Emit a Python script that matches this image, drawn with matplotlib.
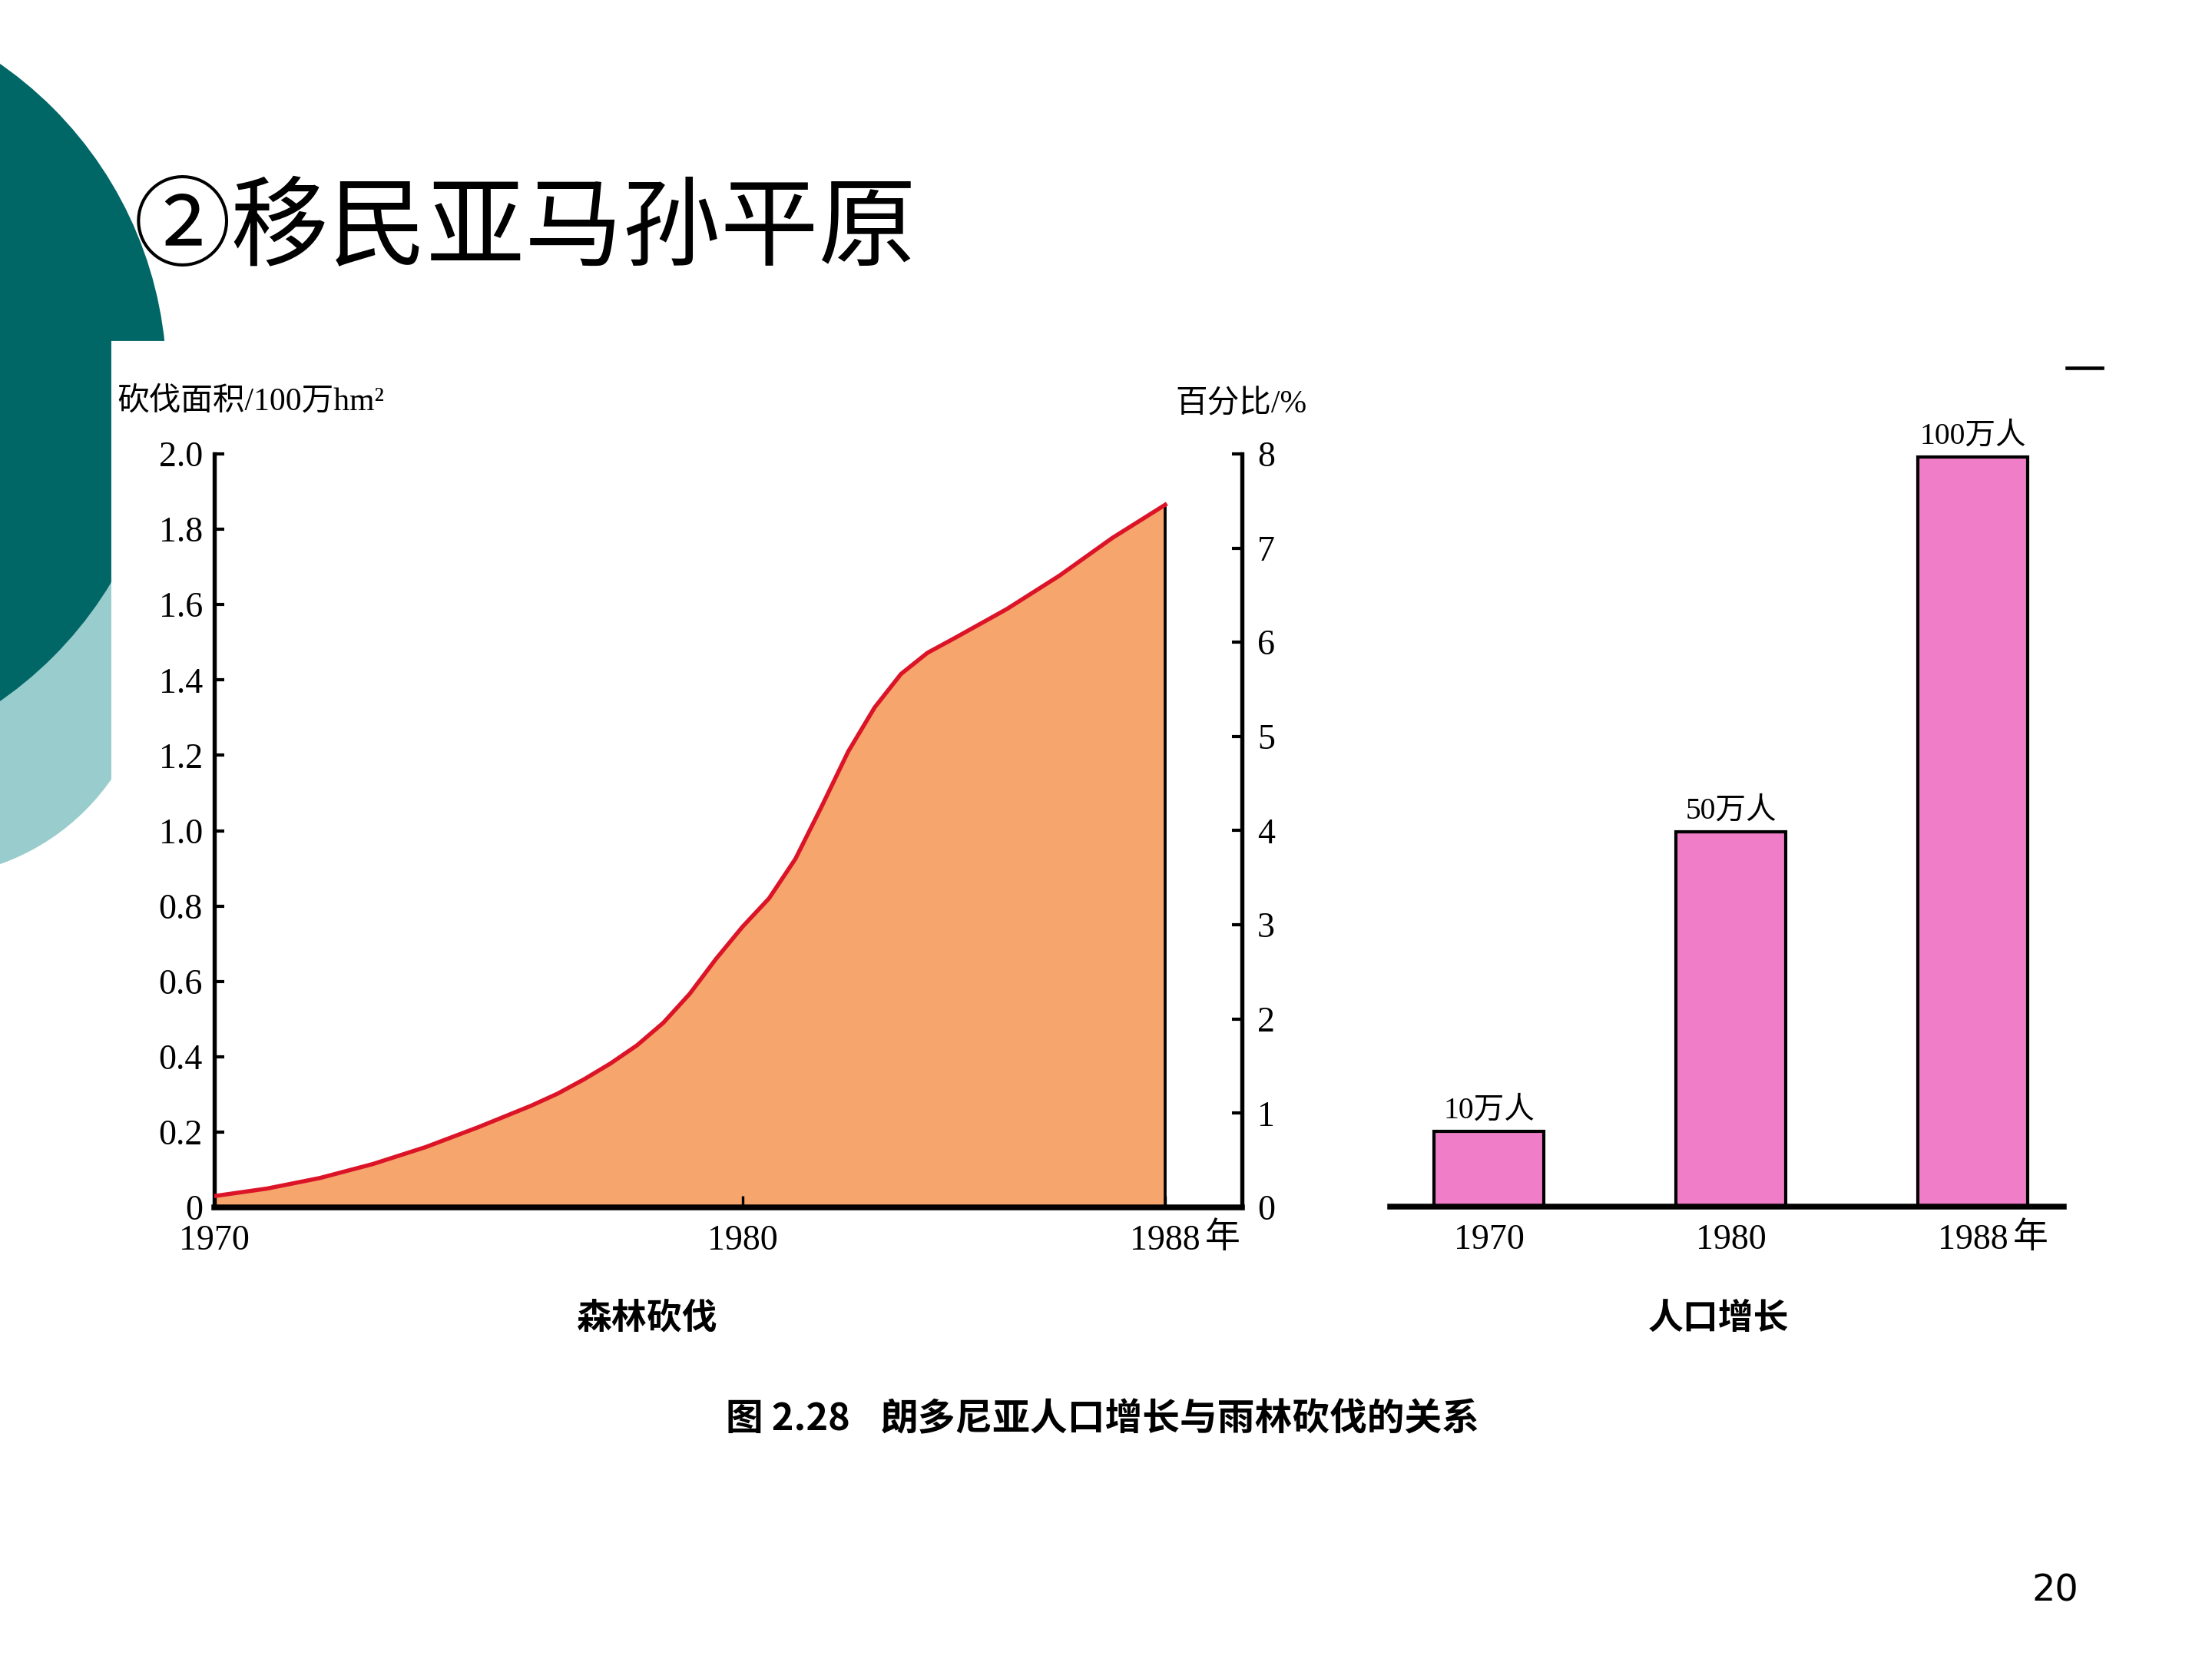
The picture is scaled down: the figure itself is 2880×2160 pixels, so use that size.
import matplotlib.pyplot as plt
from matplotlib.patches import Circle, Rectangle

W, H = 2880, 2160

# forest clearing curve (100万 hm²)
years = [1970, 1971, 1972, 1973, 1974, 1975, 1976, 1976.5, 1977, 1977.5, 1978,
         1978.5, 1979, 1979.5, 1980, 1980.5, 1981, 1981.5, 1982, 1982.5, 1983,
         1983.5, 1984, 1985, 1986, 1987, 1988]
area = [0.030, 0.050, 0.078, 0.115, 0.160, 0.213, 0.270, 0.302, 0.340, 0.382, 0.430,
        0.490, 0.567, 0.660, 0.745, 0.820, 0.925, 1.065, 1.210, 1.327, 1.416,
        1.472, 1.510, 1.588, 1.677, 1.777, 1.865]
area_ticks = [0, 0.2, 0.4, 0.6, 0.8, 1.0, 1.2, 1.4, 1.6, 1.8, 2.0]
area_labels = ["0", "0.2", "0.4", "0.6", "0.8", "1.0", "1.2", "1.4", "1.6", "1.8", "2.0"]
pct_ticks = [0, 1, 2, 3, 4, 5, 6, 7, 8]
year_ticks = [1970, 1980, 1988]
year_labels = ["1970", "1980", "1988"]

# population (万人)
pop_years = ["1970", "1980", "1988"]
pop = [10, 50, 100]

SERIF = ["Liberation Serif", "Noto Sans CJK SC"]
SANS = ["Noto Sans CJK SC", "DejaVu Sans"]
ORANGE = "#F6A56C"
RED = "#DC1428"
PINK = "#F07DC8"

fig = plt.figure(figsize=(9.6, 7.2), dpi=300)

# slide background in pixel coordinates
bg = fig.add_axes([0, 0, 1, 1])
bg.set_xlim(0, W)
bg.set_ylim(H, 0)
bg.axis("off")
bg.add_patch(Circle((-99, 845), 295, color="#99CCCC", zorder=1))
bg.add_patch(Circle((-288, 498), 503, color="#006666", zorder=2))
bg.add_patch(Rectangle((147, 446), W - 147, 1600, color="white", zorder=3))
bg.plot([2691, 2737], [479, 479], color="black", lw=1.1, zorder=5)

bg.text(174, 300, "②移民亚马孙平原", fontsize=30.6, family=SANS,
        ha="left", va="center", zorder=5)
bg.text(152, 523, "砍伐面积/100万hm²", fontsize=10, family=SERIF,
        ha="left", va="center", zorder=5)
bg.text(1530, 527, "百分比/%", fontsize=10, family=SERIF,
        ha="left", va="center", zorder=5)
bg.text(1592, 1613, "年", fontsize=11, family=SERIF, ha="center", va="center", zorder=5)
bg.text(2644, 1613, "年", fontsize=11, family=SERIF, ha="center", va="center", zorder=5)
bg.text(843, 1717, "森林砍伐", fontsize=11, family=SANS, weight="bold",
        ha="center", va="center", zorder=5)
bg.text(2237, 1717, "人口增长", fontsize=11, family=SANS, weight="bold",
        ha="center", va="center", zorder=5)
bg.text(945, 1848, "图 2.28", fontsize=11.7, family=SANS, weight="bold",
        ha="left", va="center", zorder=5)
bg.text(1147, 1848, "朗多尼亚人口增长与雨林砍伐的关系", fontsize=11.7, family=SANS,
        weight="bold", ha="left", va="center", zorder=5)
bg.text(2676, 2071, "20", fontsize=11.5, family="DejaVu Sans",
        ha="center", va="center", zorder=5)

# left chart: forest clearing
ax1 = fig.add_axes([279 / W, 1 - 1572 / H, 1338 / W, 981 / H])
ax1.set_zorder(2)
ax1.patch.set_visible(False)
ax1.fill_between(years, area, 0, color=ORANGE, lw=0, zorder=1)
ax1.plot(years, area, color=RED, lw=1.3, zorder=3, solid_joinstyle="round")
ax1.vlines(years[-1], 0, area[-1], color="black", lw=0.9, zorder=2)
ax1.set_xlim(1970, 1970 + 1338 / 68.78)
ax1.set_ylim(0, 2.0)
ax1.set_yticks(area_ticks, area_labels, fontsize=11, family=SERIF)
ax1.set_xticks(year_ticks, year_labels, fontsize=11, family=SERIF)
ax1.tick_params(axis="y", direction="in", length=3.2, width=1.0, pad=3.6)
ax1.tick_params(axis="x", direction="in", length=3.5, width=0.8, pad=5.5)
ax1.spines["top"].set_visible(False)
ax1.spines["right"].set_visible(False)
ax1.spines["left"].set_linewidth(1.3)
ax1.spines["bottom"].set_linewidth(1.8)
ax1.spines["bottom"].set_zorder(4)

ax1b = ax1.twinx()
ax1b.set_zorder(3)
ax1b.patch.set_visible(False)
ax1b.set_ylim(0, 8)
ax1b.set_yticks(pct_ticks, [str(t) for t in pct_ticks], fontsize=11, family=SERIF)
ax1b.tick_params(axis="y", direction="in", length=3.2, width=1.0, pad=4.8)
for s in ["top", "left", "bottom"]:
    ax1b.spines[s].set_visible(False)
ax1b.spines["right"].set_linewidth(1.3)

# right chart: population
ax2 = fig.add_axes([1810 / W, 1 - 1571 / H, 877 / W, 980 / H])
ax2.set_zorder(2)
ax2.patch.set_visible(False)
xpos = range(len(pop))
ax2.bar(xpos, pop, width=0.455, color=PINK, edgecolor="black", lw=1.0, clip_on=False)
for i, v in zip(xpos, pop):
    ax2.annotate(f"{v}万人", xy=(i, v), xytext=(0, 2), textcoords="offset points",
                 ha="center", va="bottom", fontsize=9.5, family=SERIF)
ax2.set_xlim(-0.408, 2.376)
ax2.set_ylim(0, 100.4)
ax2.set_yticks([])
ax2.set_xticks(list(xpos), pop_years, fontsize=11, family=SERIF)
ax2.tick_params(axis="x", length=0, pad=5.5)
for s in ["top", "left", "right"]:
    ax2.spines[s].set_visible(False)
ax2.spines["bottom"].set_linewidth(1.8)

fig.savefig("out.png", dpi=300)
